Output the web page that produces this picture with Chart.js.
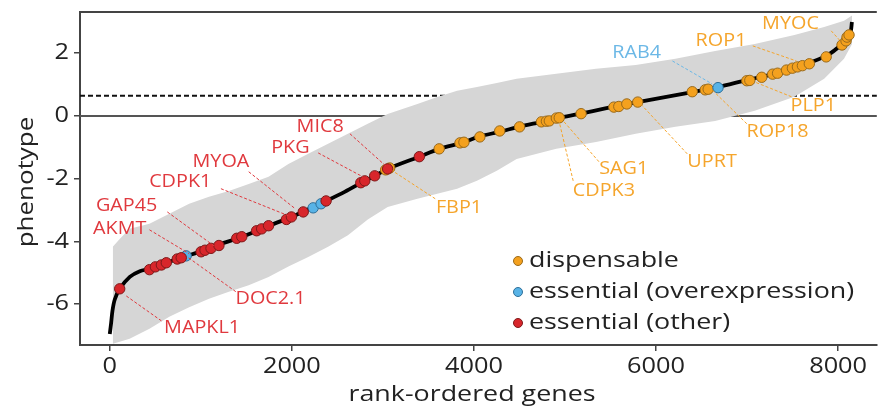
<!DOCTYPE html>
<html>
<head>
<meta charset="utf-8">
<script src="https://cdn.jsdelivr.net/npm/chart.js@4/dist/chart.umd.min.js"></script>
<style>
  html, body { margin: 0; padding: 0; background: #fff; }
  #wrap { width: 883px; height: 409px; }
</style>
</head>
<body>
<div id="wrap"><canvas id="chart" width="883" height="409"></canvas></div>
<script>
// sorted phenotype curve
const curveRank  = [0, 15, 30, 55, 109, 220, 330, 436, 621, 850, 1015, 1199, 1450, 1711, 1995, 2250, 2376, 2580, 2801, 2910, 3052, 3400, 3618, 3890, 4054, 4294, 4501, 4763, 4937, 5177, 5559, 5799, 6398, 6681, 7008, 7302, 7597, 7869, 8043, 8131, 8152];
const curveValue = [-6.95, -6.6, -6.2, -5.85, -5.51, -5.13, -4.95, -4.87, -4.68, -4.46, -4.3, -4.1, -3.86, -3.54, -3.22, -2.88, -2.71, -2.42, -2.07, -1.91, -1.69, -1.3, -1.05, -0.84, -0.66, -0.5, -0.34, -0.18, -0.06, 0.07, 0.31, 0.44, 0.76, 0.92, 1.15, 1.34, 1.6, 1.91, 2.29, 2.61, 2.99];

// grey error band envelope
const bandRank  = [33, 109, 218, 436, 654, 872, 1090, 1308, 1526, 1744, 1962, 2180, 2398, 2616, 2834, 3052, 3379, 3597, 3815, 4033, 4251, 4469, 4905, 5341, 5777, 6213, 6649, 7084, 7520, 7847, 8065, 8153];
const bandUpper = [-4.17, -3.92, -3.6, -3.44, -3.12, -2.8, -2.58, -2.39, -2.17, -1.94, -1.53, -1.21, -0.89, -0.57, -0.25, 0.06, 0.38, 0.6, 0.8, 0.92, 1.05, 1.18, 1.34, 1.5, 1.62, 1.82, 2.07, 2.29, 2.58, 2.83, 3.03, 3.2];
const bandLower = [-7.26, -7.2, -7.1, -6.78, -6.4, -6.1, -5.83, -5.6, -5.4, -5.13, -4.8, -4.5, -4.17, -3.8, -3.3, -2.9, -2.64, -2.48, -2.32, -2.07, -1.75, -1.37, -1.05, -0.83, -0.57, -0.35, -0.16, 0.16, 0.61, 1.18, 1.82, 2.29];

// highlighted genes
const dispRank  = [3030, 3075, 3618, 3847, 3890, 4065, 4283, 4501, 4741, 4796, 4828, 4905, 4937, 5177, 5537, 5591, 5679, 5799, 6398, 6540, 6573, 6997, 7030, 7161, 7281, 7335, 7433, 7498, 7553, 7608, 7684, 7869, 8043, 8087, 8098, 8120];
const dispValue = [-1.72, -1.66, -1.05, -0.86, -0.84, -0.67, -0.48, -0.35, -0.19, -0.17, -0.16, -0.07, -0.06, 0.07, 0.28, 0.3, 0.38, 0.44, 0.77, 0.83, 0.85, 1.12, 1.13, 1.23, 1.33, 1.36, 1.46, 1.52, 1.56, 1.6, 1.66, 1.88, 2.26, 2.39, 2.51, 2.58];
const overRank  = [839, 2234, 2321, 6681];
const overValue = [-4.46, -2.93, -2.80, 0.9];
const otherRank  = [109, 436, 501, 567, 621, 741, 785, 1003, 1046, 1112, 1199, 1395, 1450, 1613, 1668, 1744, 1940, 1995, 2125, 2376, 2757, 2801, 2910, 3052, 3400];
const otherValue = [-5.51, -4.9, -4.81, -4.75, -4.68, -4.56, -4.52, -4.33, -4.28, -4.22, -4.13, -3.9, -3.85, -3.66, -3.6, -3.5, -3.3, -3.22, -3.06, -2.71, -2.13, -2.07, -1.91, -1.69, -1.3];

const threshold = 0.64;
const xTicks = [0, 2000, 4000, 6000, 8000];
const yTicks = [-6, -4, -2, 0, 2];

const legendNames = ['dispensable', 'essential (overexpression)', 'essential (other)'];

// gene labels: text position and leader line, in data units
const geneLabels = [
    { name: 'MYOC',   color: '#f5a52c', tx: 7477, ty: 2.93,  x1: 7924, y1: 2.71,  x2: 8033, y2: 2.36 },
    { name: 'ROP1',   color: '#f5a52c', tx: 6714, ty: 2.39,  x1: 7063, y1: 2.23,  x2: 7542, y2: 1.75 },
    { name: 'RAB4',   color: '#6cb8e6', tx: 5787, ty: 2.01,  x1: 6180, y1: 1.75,  x2: 6616, y2: 1.02 },
    { name: 'PLP1',   color: '#f5a52c', tx: 7727, ty: 0.32,  x1: 7488, y1: 0.61,  x2: 7084, y2: 1.08 },
    { name: 'ROP18',  color: '#f5a52c', tx: 7335, ty: -0.51, x1: 6997, y1: -0.25, x2: 6627, y2: 0.8 },
    { name: 'UPRT',   color: '#f5a52c', tx: 6616, ty: -1.46, x1: 6343, y1: -1.21, x2: 5831, y2: 0.38 },
    { name: 'SAG1',   color: '#f5a52c', tx: 5646, ty: -1.69, x1: 5373, y1: -1.46, x2: 4981, y2: -0.16 },
    { name: 'CDPK3',  color: '#f5a52c', tx: 5428, ty: -2.39, x1: 5090, y1: -2.07, x2: 4937, y2: -0.19 },
    { name: 'FBP1',   color: '#f5a52c', tx: 3836, ty: -2.93, x1: 3575, y1: -2.64, x2: 3106, y2: -1.75 },
    { name: 'MIC8',   color: '#e0393e', tx: 2311, ty: -0.35, x1: 2638, y1: -0.57, x2: 3030, y2: -1.59 },
    { name: 'PKG',    color: '#e0393e', tx: 1984, ty: -1.02, x1: 2289, y1: -1.18, x2: 2779, y2: -1.94 },
    { name: 'MYOA',   color: '#e0393e', tx: 1221, ty: -1.46, x1: 1526, y1: -1.78, x2: 2038, y2: -2.96 },
    { name: 'CDPK1',  color: '#e0393e', tx: 774,  ty: -2.1,  x1: 1221, y1: -2.32, x2: 1962, y2: -3.18 },
    { name: 'GAP45',  color: '#e0393e', tx: 185,  ty: -2.87, x1: 632,  y1: -3.06, x2: 1144, y2: -4.14 },
    { name: 'AKMT',   color: '#e0393e', tx: 109,  ty: -3.6,  x1: 436,  y1: -3.63, x2: 872,  y2: -4.39 },
    { name: 'DOC2.1', color: '#e0393e', tx: 1766, ty: -5.83, x1: 1384, y1: -5.6,  x2: 850,  y2: -4.49 },
    { name: 'MAPKL1', color: '#e0393e', tx: 1014, ty: -6.75, x1: 567,  y1: -6.53, x2: 163,  y2: -5.7 }
];

const orange = '#f4a11e', blue = '#58b3e6', red = '#d8262b';
const font = '"Open Sans", "Noto Sans", sans-serif';

function pairs(xs, ys) {
    return xs.map((x, i) => ({ x: x, y: ys[i] }));
}

// text in the reference is a bit wider than Open Sans, so stretch it sideways
function drawText(ctx, text, x, y, size, stretch, align, rotate) {
    ctx.save();
    ctx.translate(x, y);
    if (rotate) ctx.rotate(rotate);
    ctx.scale(stretch, 1);
    ctx.font = size + 'px ' + font;
    ctx.textAlign = align;
    ctx.textBaseline = 'middle';
    ctx.fillText(text, 0, 0);
    ctx.restore();
}

// reference lines drawn behind the grey band
const refLines = {
    id: 'refLines',
    beforeDatasetsDraw(chart) {
        const ctx = chart.ctx;
        const area = chart.chartArea;
        const y = chart.scales.y;
        ctx.save();
        ctx.strokeStyle = '#555';
        ctx.lineWidth = 2;
        ctx.beginPath();
        ctx.moveTo(area.left, y.getPixelForValue(0));
        ctx.lineTo(area.right, y.getPixelForValue(0));
        ctx.stroke();
        ctx.strokeStyle = '#111';
        ctx.setLineDash([5, 3]);
        ctx.beginPath();
        ctx.moveTo(area.left, y.getPixelForValue(threshold));
        ctx.lineTo(area.right, y.getPixelForValue(threshold));
        ctx.stroke();
        ctx.restore();
    }
};

// top frame line, tick labels, titles, gene labels and the legend
const annotations = {
    id: 'annotations',
    afterDraw(chart) {
        const ctx = chart.ctx;
        const area = chart.chartArea;
        const xs = chart.scales.x, ys = chart.scales.y;
        ctx.save();
        ctx.strokeStyle = '#444';
        ctx.lineWidth = 2;
        ctx.beginPath();
        ctx.moveTo(area.left - 1, area.top);
        ctx.lineTo(area.right, area.top);
        ctx.stroke();

        ctx.fillStyle = '#222';
        xTicks.forEach(v => drawText(ctx, String(v), xs.getPixelForValue(v), 367, 22, 1.15, 'center'));
        yTicks.forEach(v => drawText(ctx, String(v), 69, ys.getPixelForValue(v), 22, 1.15, 'right'));
        drawText(ctx, 'rank-ordered genes', 472, 395, 22, 1.22, 'center');
        drawText(ctx, 'phenotype', 27, 182, 22, 1.18, 'center', -Math.PI / 2);

        geneLabels.forEach(l => {
            ctx.strokeStyle = l.color;
            ctx.lineWidth = 1;
            ctx.setLineDash([3, 2]);
            ctx.beginPath();
            ctx.moveTo(xs.getPixelForValue(l.x1), ys.getPixelForValue(l.y1));
            ctx.lineTo(xs.getPixelForValue(l.x2), ys.getPixelForValue(l.y2));
            ctx.stroke();
            ctx.setLineDash([]);
            ctx.fillStyle = l.color;
            drawText(ctx, l.name, xs.getPixelForValue(l.tx), ys.getPixelForValue(l.ty), 18, 1.1, 'center');
        });

        // legend
        const colors = [orange, blue, red];
        const edges = ['#9a6a1a', '#2e6f99', '#7d1a1a'];
        legendNames.forEach((name, i) => {
            const cy = 261 + i * 31;
            ctx.beginPath();
            ctx.arc(518, cy, 4.5, 0, Math.PI * 2);
            ctx.fillStyle = colors[i];
            ctx.fill();
            ctx.strokeStyle = edges[i];
            ctx.lineWidth = 1;
            ctx.stroke();
            ctx.fillStyle = '#222';
            drawText(ctx, name, 529, cy, 22, 1.22, 'left');
        });
        ctx.restore();
    }
};

const pointStyle = (fill, edge, order) => ({
    type: 'scatter',
    showLine: false,
    order: order,
    pointRadius: 5.2,
    pointBackgroundColor: fill,
    pointBorderColor: edge,
    pointBorderWidth: 1,
    pointHoverRadius: 5.2
});

new Chart(document.getElementById('chart'), {
    type: 'line',
    data: {
        datasets: [
            { label: 'band-upper', data: pairs(bandRank, bandUpper), borderWidth: 0, pointRadius: 0,
              backgroundColor: '#d6d6d6', fill: '+1', tension: 0, order: 10 },
            { label: 'band-lower', data: pairs(bandRank, bandLower), borderWidth: 0, pointRadius: 0,
              fill: false, tension: 0, order: 9 },
            { label: 'phenotype', data: pairs(curveRank, curveValue), borderColor: '#000', borderWidth: 3.8,
              pointRadius: 0, fill: false, tension: 0.3, order: 5 },
            Object.assign({ label: 'dispensable', data: pairs(dispRank, dispValue) }, pointStyle(orange, '#9a6a1a', 3)),
            Object.assign({ label: 'essential (overexpression)', data: pairs(overRank, overValue) }, pointStyle(blue, '#2e6f99', 2)),
            Object.assign({ label: 'essential (other)', data: pairs(otherRank, otherValue) }, pointStyle(red, '#7d1a1a', 1))
        ]
    },
    options: {
        responsive: false,
        animation: false,
        layout: { padding: { top: 12, right: 0, left: 0, bottom: 0 } },
        plugins: { legend: { display: false }, tooltip: { enabled: false } },
        scales: {
            x: {
                type: 'linear',
                min: -327,
                max: 8425,
                afterBuildTicks: scale => { scale.ticks = xTicks.map(v => ({ value: v })); },
                afterFit: scale => { scale.height = 64; },
                grid: { drawOnChartArea: false, drawTicks: true, tickLength: 6, color: '#444', lineWidth: 1.5 },
                border: { display: true, color: '#444', width: 2 },
                ticks: { display: false }
            },
            y: {
                min: -7.3,
                max: 3.31,
                afterBuildTicks: scale => { scale.ticks = yTicks.map(v => ({ value: v })); },
                afterFit: scale => { scale.width = 80; },
                grid: { drawOnChartArea: false, drawTicks: true, tickLength: 6, color: '#444', lineWidth: 1.5 },
                border: { display: true, color: '#444', width: 2 },
                ticks: { display: false }
            }
        }
    },
    plugins: [refLines, annotations]
});
</script>
</body>
</html>
